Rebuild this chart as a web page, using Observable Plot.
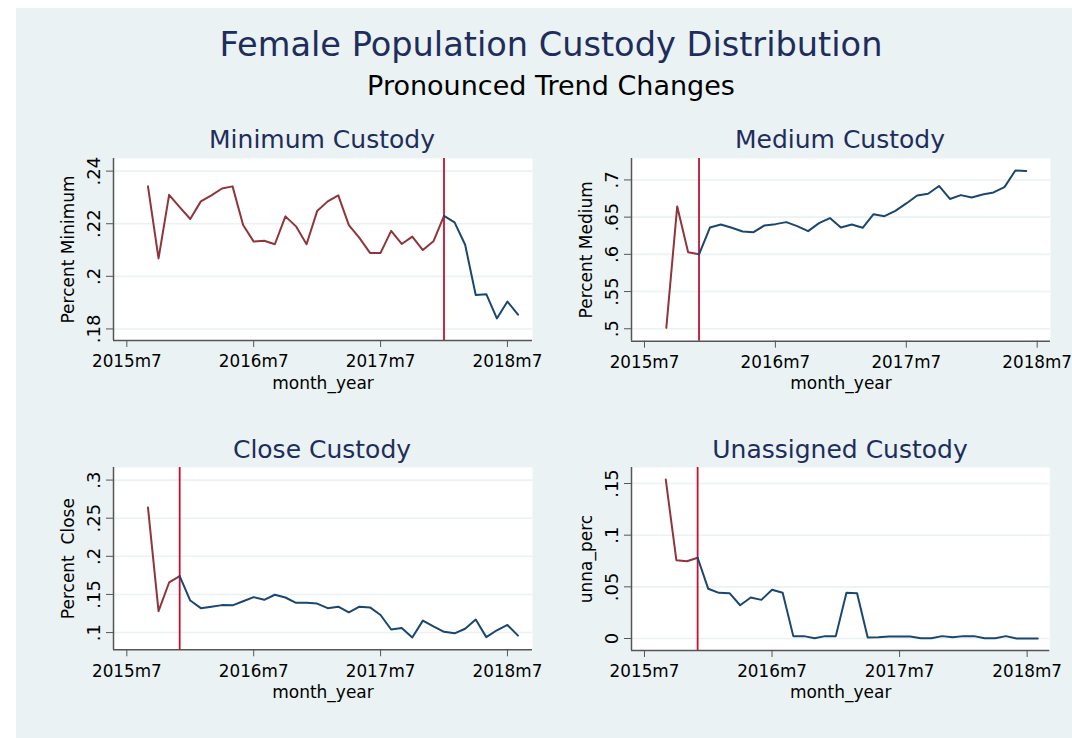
<!DOCTYPE html>
<html><head><meta charset="utf-8">
<script src="https://cdn.jsdelivr.net/npm/d3@7"></script>
<script src="https://cdn.jsdelivr.net/npm/@observablehq/plot@0.6"></script>
<style>
body{margin:0;background:#fff;font-family:"DejaVu Sans",sans-serif;}
#root{position:relative;width:1072px;height:738px;overflow:hidden;}
#bg{position:absolute;left:16px;top:8px;right:0;bottom:0;background:#eaf2f3;}
#root svg{position:absolute;overflow:visible;}
svg text{white-space:pre;}
</style></head><body><div id="root"><div id="bg"></div></div>
<script>
// ---- data ----
const months = ["2015m9","2015m10","2015m11","2015m12","2016m1","2016m2","2016m3","2016m4","2016m5","2016m6","2016m7","2016m8",
  "2016m9","2016m10","2016m11","2016m12","2017m1","2017m2","2017m3","2017m4","2017m5","2017m6","2017m7","2017m8",
  "2017m9","2017m10","2017m11","2017m12","2018m1","2018m2","2018m3","2018m4","2018m5","2018m6","2018m7","2018m8"];
const minimumPct = [.2342,.2068,.231,.2263,.2218,.2285,.2308,.2334,.2342,.2195,.2132,.2135,.2122,.2228,.219,.2122,.2248,.2285,
  .2308,.2195,.2146,.2089,.2089,.2173,.2123,.2151,.21,.2133,.223,.2205,.212,.1929,.1932,.184,.1904,.1854];
const mediumPct = [.5013,.6644,.6027,.600,.636,.640,.6357,.6307,.6298,.6388,.6406,.6433,.6379,.6312,.6419,.6487,.6361,.640,
  .6357,.654,.6513,.6585,.6684,.6791,.6814,.6919,.6744,.6796,.6765,.6805,.6832,.6904,.7126,.712];
const closePct = [.264,.128,.1657,.174,.142,.132,.134,.136,.1357,.141,.1465,.143,.1496,.146,.139,.139,.138,.132,.134,.1265,
  .134,.133,.123,.104,.106,.0935,.1157,.108,.101,.099,.105,.117,.094,.103,.110,.096];
const unassignedPct = [.1539,.0758,.0747,.0782,.0481,.0442,.0439,.0322,.0397,.0374,.0471,.0442,.0023,.0023,.0003,.0023,.0023,
  .0443,.0439,.001,.0013,.002,.002,.002,.0003,.0003,.0023,.0013,.0023,.0023,.0003,.0003,.0023,0,0,0];
const xTickLabels = ["2015m7","2016m7","2017m7","2018m7"];
const minTicks = [.18,.2,.22,.24], minTickLabels = [".18",".2",".22",".24"];
const medTicks = [.5,.55,.6,.65,.7], medTickLabels = [".5",".55",".6",".65",".7"];
const closeTicks = [.1,.15,.2,.25,.3], closeTickLabels = [".1",".15",".2",".25",".3"];
const unaTicks = [0,.05,.1,.15], unaTickLabels = ["0",".05",".1",".15"];
const titles = ["Minimum Custody","Medium Custody","Close Custody","Unassigned Custody"];
const yLabels = ["Percent Minimum","Percent Medium","Percent  Close","unna_perc"];
const breakMonths = ["2018m1","2015m12","2015m12","2015m12"];

// ---- helpers ----
const monthIndex = s => { const [y, m] = s.split("m").map(Number); return (y - 2015) * 12 + (m - 7); };
const xTickVals = xTickLabels.map(monthIndex);
const root = document.getElementById("root");
const RED = "#90353b", BLUE = "#1a476f", VLINE = "#c8102e", AXIS = "#555", GRID = "#eaf2f3";

function panel({values, m, breakMonth, yTicks, yTickLabels, yLabel, yDomain, xDomain, frame}) {
  const rows = values.map((v, i) => ({m: monthIndex(m[i]), v}));
  const b = monthIndex(breakMonth);
  const ML = 110, MR = 14, MT = 12, MB = 64;
  const W = frame.R - frame.L, H = frame.B - frame.T;
  const chart = Plot.plot({
    width: W + ML + MR, height: H + MT + MB,
    marginLeft: ML, marginRight: MR, marginTop: MT, marginBottom: MB,
    style: {background: "transparent", fontFamily: "DejaVu Sans", fontSize: "17px", color: "#000"},
    x: {domain: xDomain},
    y: {domain: yDomain},
    marks: [
      Plot.frame({fill: "white", stroke: null}),
      Plot.gridY(yTicks, {stroke: GRID, strokeOpacity: 1, strokeWidth: 1.6}),
      Plot.ruleX([b], {stroke: VLINE, strokeWidth: 1.8}),
      Plot.line(rows.filter(d => d.m <= b), {x: "m", y: "v", stroke: RED, strokeWidth: 2}),
      Plot.line(rows.filter(d => d.m >= b), {x: "m", y: "v", stroke: BLUE, strokeWidth: 2}),
      Plot.ruleX([xDomain[0]], {stroke: AXIS, strokeWidth: 1.5}),
      Plot.ruleY([yDomain[0]], {stroke: AXIS, strokeWidth: 1.5}),
      Plot.axisX(xTickVals, {tickFormat: d => xTickLabels[xTickVals.indexOf(d)], tickSize: 7, tickPadding: 8, fontSize: 16.8,
        stroke: AXIS, label: null}),
      Plot.axisX({ticks: [], tickSize: 0, label: "month_year", labelAnchor: "center", labelArrow: "none", labelOffset: 48, fontSize: 17}),
      Plot.axisY(yTicks, {tickFormat: d => yTickLabels[yTicks.indexOf(d)], tickRotate: -90, tickSize: 7, tickPadding: 7, fontSize: 18,
        stroke: AXIS, label: null}),
      Plot.axisY({ticks: [], tickSize: 0, label: yLabel, labelAnchor: "center", labelArrow: "none", labelOffset: 52, fontSize: 17})
    ]
  });
  chart.style.left = (frame.L - ML) + "px";
  chart.style.top = (frame.T - MT) + "px";
  root.appendChild(chart);
}

panel({values: minimumPct, m: months, breakMonth: breakMonths[0], yTicks: minTicks, yTickLabels: minTickLabels,
  yLabel: yLabels[0], yDomain: [.1756, .2448], xDomain: [-1.26, 38.37], frame: {L: 112.7, R: 531.7, T: 158, B: 340}});
panel({values: mediumPct, m: months.slice(0, mediumPct.length), breakMonth: breakMonths[1], yTicks: medTicks, yTickLabels: medTickLabels,
  yLabel: yLabels[1], yDomain: [.4833, .7288], xDomain: [-1.19, 37.22], frame: {L: 631, R: 1050, T: 158, B: 340.7}});
panel({values: closePct, m: months, breakMonth: breakMonths[2], yTicks: closeTicks, yTickLabels: closeTickLabels,
  yLabel: yLabels[2], yDomain: [.0774, .3165], xDomain: [-1.26, 38.37], frame: {L: 112.7, R: 531.7, T: 467, B: 649.3}});
panel({values: unassignedPct, m: months, breakMonth: breakMonths[3], yTicks: unaTicks, yTickLabels: unaTickLabels,
  yLabel: yLabels[3], yDomain: [-.0116, .1655], xDomain: [-1.22, 38.13], frame: {L: 631, R: 1049.3, T: 467, B: 650}});

// ---- titles ----
const ns = "http://www.w3.org/2000/svg";
const ov = document.createElementNS(ns, "svg");
ov.setAttribute("width", 1072); ov.setAttribute("height", 738);
ov.style.left = "0px"; ov.style.top = "0px";
function addText(str, x, y, size, fill) {
  const t = document.createElementNS(ns, "text");
  t.setAttribute("x", x); t.setAttribute("y", y); t.setAttribute("text-anchor", "middle");
  t.setAttribute("font-family", "DejaVu Sans"); t.setAttribute("font-size", size); t.setAttribute("fill", fill);
  t.textContent = str; ov.appendChild(t);
}
addText("Female Population Custody Distribution", 551, 56, 33.6, "#1e2d5c");
addText("Pronounced Trend Changes", 551, 95, 27, "#000");
addText(titles[0], 322, 148, 25, "#1e2d5c");
addText(titles[1], 840, 148, 25, "#1e2d5c");
addText(titles[2], 322, 458, 25, "#1e2d5c");
addText(titles[3], 840, 458, 25, "#1e2d5c");
root.appendChild(ov);
</script>
</body></html>
